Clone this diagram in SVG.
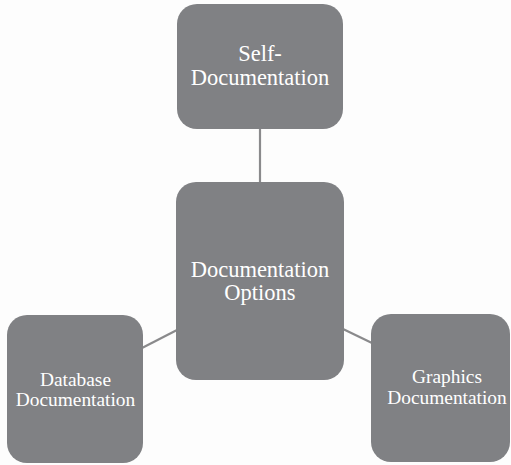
<svg xmlns="http://www.w3.org/2000/svg" width="511" height="465" viewBox="0 0 511 465">
  <style>
    .node { fill: #808184; }
    .label { fill: #ffffff; font-family: "Liberation Serif", "Times New Roman", serif; text-anchor: middle; }
    .big { font-size: 22.5px; }
    .small { font-size: 19.4px; }
    .link { stroke: #8a8a8c; stroke-width: 2.2; fill: none; }
  </style>
  <rect width="511" height="465" fill="#fdfdfd"/>
  <g id="connectors">
    <line class="link" x1="260" y1="128" x2="260" y2="183"/>
    <line class="link" x1="142" y1="348" x2="177" y2="330"/>
    <line class="link" x1="343" y1="329" x2="372" y2="343"/>
  </g>
  <g id="self-documentation">
    <rect class="node" x="177" y="4" width="166" height="125" rx="20"/>
    <text class="label big" x="260" y="61">Self-</text>
    <text class="label big" x="260" y="85">Documentation</text>
  </g>
  <g id="documentation-options">
    <rect class="node" x="176" y="182" width="168" height="198" rx="20"/>
    <text class="label big" x="260" y="277">Documentation</text>
    <text class="label big" x="260" y="300">Options</text>
  </g>
  <g id="database-documentation">
    <rect class="node" x="7" y="315" width="136" height="148" rx="20"/>
    <text class="label small" x="75.5" y="386">Database</text>
    <text class="label small" x="75.5" y="406">Documentation</text>
  </g>
  <g id="graphics-documentation">
    <rect class="node" x="371" y="314" width="139" height="148" rx="20"/>
    <text class="label small" x="447" y="383">Graphics</text>
    <text class="label small" x="447" y="404">Documentation</text>
  </g>
</svg>
